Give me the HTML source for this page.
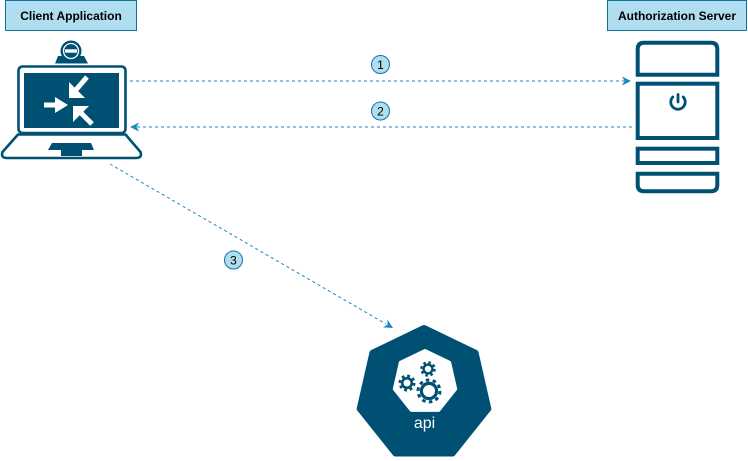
<!DOCTYPE html>
<html>
<head>
<meta charset="utf-8">
<style>
html,body{margin:0;padding:0;background:#fff;}
svg{display:block;}
text{font-family:"Liberation Sans",Arial,sans-serif;}
</style>
</head>
<body>
<svg width="748" height="461" viewBox="0 0 748 461" xmlns="http://www.w3.org/2000/svg">
  <!-- Label boxes -->
  <rect x="5.5" y="0.5" width="131" height="30" fill="#b1ddf0" stroke="#10739e" stroke-width="1"/>
  <text x="71" y="20" font-size="12" font-weight="bold" text-anchor="middle" fill="#000">Client Application</text>
  <rect x="607.5" y="0.5" width="139" height="30" fill="#b1ddf0" stroke="#10739e" stroke-width="1"/>
  <text x="677" y="20" font-size="12" font-weight="bold" text-anchor="middle" fill="#000">Authorization Server</text>

  <!-- Laptop -->
  <g fill="#005073">
    <polygon points="58,56 84,56 88,63.5 55,63.5"/>
    <circle cx="71" cy="51" r="10.5"/>
  </g>
  <circle cx="71" cy="51" r="7.5" fill="none" stroke="#fff" stroke-width="1.3"/>
  <rect x="65" y="49.3" width="12" height="3.4" fill="#fff"/>
  <rect x="18.5" y="66.5" width="107" height="66.5" rx="4" fill="#fff" stroke="#005073" stroke-width="2.6"/>
  <rect x="24" y="73" width="95" height="55" fill="#005073"/>
  <path d="M18,134.5 L125.5,134.5 L140.5,152 Q142.5,158 136,158 L7,158 Q0.5,158 2.5,152 Z" fill="#fff" stroke="#005073" stroke-width="2.6" stroke-linejoin="round"/>
  <polygon points="52,143 91,143 94,150 82,150 82,156 61,156 61,150 48,150" fill="#005073"/>
  <!-- screen arrows -->
  <g fill="#fff" stroke="#fff">
    <line x1="44" y1="105" x2="58" y2="105" stroke-width="5"/>
    <polygon points="55,97 68,105 55,113" stroke="none"/>
    <line x1="87" y1="77" x2="75" y2="91" stroke-width="5"/>
    <polygon points="69,98 69,82 85,98" stroke="none"/>
    <line x1="92" y1="124" x2="79" y2="111" stroke-width="5"/>
    <polygon points="73,106 89,106 73,122" stroke="none"/>
  </g>

  <!-- Server -->
  <g fill="none" stroke="#005073" stroke-width="4">
    <path d="M637.7,74.7 L637.7,49 Q637.7,42.7 644,42.7 L711,42.7 Q717.3,42.7 717.3,49 L717.3,74.7 Z"/>
    <rect x="637.7" y="83.7" width="79.6" height="54.3"/>
    <rect x="637.7" y="148.7" width="79.6" height="14.3"/>
    <path d="M637.7,173.7 L717.3,173.7 L717.3,185 Q717.3,191.3 711,191.3 L644,191.3 Q637.7,191.3 637.7,185 Z"/>
  </g>
  <path d="M672.8,97 A7.2,7.2 0 1 0 683.2,97" fill="none" stroke="#005073" stroke-width="2.8" stroke-linecap="round"/>
  <line x1="678" y1="94.5" x2="678" y2="102" stroke="#005073" stroke-width="2.8" stroke-linecap="round"/>

  <!-- Connectors -->
  <g stroke="#1b87c1" stroke-width="1" stroke-dasharray="3 3" fill="none">
    <line x1="130" y1="81" x2="624" y2="81"/>
    <line x1="632" y1="127" x2="137" y2="127"/>
    <line x1="110" y1="164" x2="386" y2="324"/>
  </g>
  <g fill="#1b87c1">
    <polygon points="631,81 622,76.5 624.5,81 622,85.5"/>
    <polygon points="130,127 139,122.5 136.5,127 139,131.5"/>
    <polygon points="393,328 387.5,319.6 387.4,324.7 383,327.4"/>
  </g>

  <!-- Number circles -->
  <g fill="#b1ddf0" stroke="#10739e" stroke-width="1">
    <circle cx="380.5" cy="64.5" r="9"/>
    <circle cx="380.5" cy="111" r="9"/>
    <circle cx="233.5" cy="260" r="9"/>
  </g>
  <g font-size="12" text-anchor="middle" fill="#000">
    <text x="380.5" y="69">1</text>
    <text x="380.5" y="115.5">2</text>
    <text x="233.5" y="264.5">3</text>
  </g>

  <!-- API heptagon -->
  <polygon points="424,328 475.6,352.85 488.3,408.7 452.6,453.5 395.4,453.5 359.7,408.7 372.4,352.85" fill="#005073" stroke="#005073" stroke-width="6" stroke-linejoin="round"/>
  <polygon points="425,351 449.2,362.7 455.2,388.9 438.5,409.9 411.5,409.9 394.8,388.9 400.8,362.7" fill="#fff" stroke="#fff" stroke-width="4" stroke-linejoin="round"/>
  <!-- gears -->
  <g fill="#fff" stroke="#005073">
    <circle cx="407" cy="383" r="7.2" fill="none" stroke-width="2.6" stroke-dasharray="2.8 2.85"/>
    <circle cx="407" cy="383" r="4.8" stroke-width="2.6"/>
    <circle cx="428" cy="369" r="6.6" fill="none" stroke-width="2.4" stroke-dasharray="2.6 2.6"/>
    <circle cx="428" cy="369" r="4.4" stroke-width="2.4"/>
    <circle cx="429" cy="391" r="11" fill="none" stroke-width="3" stroke-dasharray="3.5 3.4"/>
    <circle cx="429" cy="391" r="7.6" stroke-width="3.2"/>
  </g>
  <text x="424.5" y="428" font-size="16" text-anchor="middle" fill="#fff">api</text>
</svg>
</body>
</html>
